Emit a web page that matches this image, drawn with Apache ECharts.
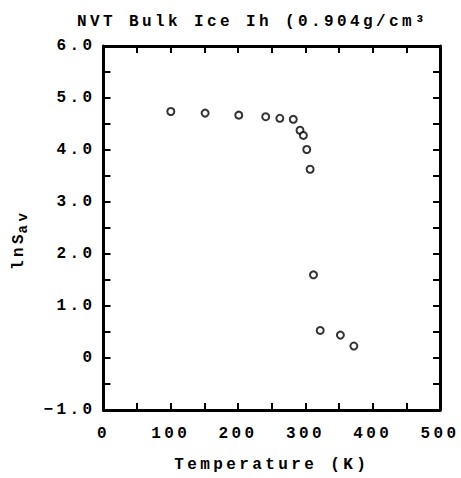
<!DOCTYPE html>
<html><head><meta charset="utf-8">
<script src="https://cdn.jsdelivr.net/npm/echarts@6/dist/echarts.min.js"></script>
<style>
html,body{margin:0;padding:0;background:#fff;}
#c{width:461px;height:478px;}
#c svg text{letter-spacing:3.4px;}
</style></head><body>
<div id="c"></div>
<script>
const temperature = [100, 151, 201, 241, 262, 282, 292, 297, 302, 307, 312, 322, 352, 372];
const lnSav = [4.74, 4.71, 4.67, 4.64, 4.61, 4.59, 4.38, 4.28, 4.01, 3.63, 1.60, 0.53, 0.44, 0.23];
const xTickLabels = ['0', '100', '200', '300', '400', '500'];
const yTickLabels = ['−1.0', '0', '1.0', '2.0', '3.0', '4.0', '5.0', '6.0'];
const titleText = 'NVT Bulk Ice Ih (0.904g/cm³';
const xName = 'Temperature (K)';

const FONT = 'Liberation Mono';
const FW = 'bold';
const chart = echarts.init(document.getElementById('c'), null, {renderer: 'svg'});
const tickStyle = {show: true, inside: true, length: 7, lineStyle: {color: '#000', width: 2}};
const lineStyle = {show: true, onZero: false, lineStyle: {color: '#000', width: 3}};
const xFmt = v => (Math.round(v) % 100 === 0 ? xTickLabels[Math.round(v) / 100] : '');
const yFmt = v => {
  const r = Math.round(v * 2);
  return r % 2 === 0 ? yTickLabels[r / 2 + 1] : '';
};
chart.setOption({
  animation: false,
  backgroundColor: '#fff',
  title: {
    text: titleText, left: 72, top: 9,
    textStyle: {fontFamily: FONT, fontSize: 16, fontWeight: FW, color: '#000'}
  },
  grid: {left: 103.5, right: 21, top: 46, bottom: 65},
  xAxis: [{
    type: 'value', min: 0, max: 500, interval: 50,
    axisLine: lineStyle, axisTick: tickStyle, splitLine: {show: false},
    axisLabel: {formatter: xFmt, margin: 16, color: '#000', fontFamily: FONT, fontSize: 16, fontWeight: FW},
    name: xName, nameLocation: 'middle', nameGap: 47,
    nameTextStyle: {color: '#000', fontFamily: FONT, fontSize: 16, fontWeight: FW}
  }, {
    type: 'value', position: 'top', min: 0, max: 500, interval: 50,
    axisLine: lineStyle, axisTick: tickStyle, splitLine: {show: false}, axisLabel: {show: false}
  }],
  yAxis: [{
    type: 'value', min: -1, max: 6, interval: 0.5,
    axisLine: lineStyle, axisTick: tickStyle, splitLine: {show: false},
    axisLabel: {formatter: yFmt, margin: 8, color: '#000', fontFamily: FONT, fontSize: 16, fontWeight: FW},
    name: '{m|lnS}{s|av}', nameLocation: 'middle', nameGap: 77, nameRotate: 90,
    nameTextStyle: {
      color: '#000', fontFamily: FONT, fontSize: 16, fontWeight: FW,
      padding: [0, 22, 0, 0],
      rich: {
        m: {fontFamily: FONT, fontSize: 16, fontWeight: FW, color: '#000', lineHeight: 16, verticalAlign: 'top'},
        s: {fontFamily: FONT, fontSize: 14, fontWeight: FW, color: '#000', lineHeight: 16, padding: [5, 0, 0, 6], verticalAlign: 'top'}
      }
    }
  }, {
    type: 'value', position: 'right', min: -1, max: 6, interval: 0.5,
    axisLine: lineStyle, axisTick: tickStyle, splitLine: {show: false}, axisLabel: {show: false}
  }],
  series: [{
    type: 'scatter',
    data: temperature.map((t, i) => [t, lnSav[i]]),
    symbol: 'emptyCircle', symbolSize: 7,
    itemStyle: {color: '#000', borderColor: '#000', borderWidth: 2}
  }]
});
</script>
</body></html>
